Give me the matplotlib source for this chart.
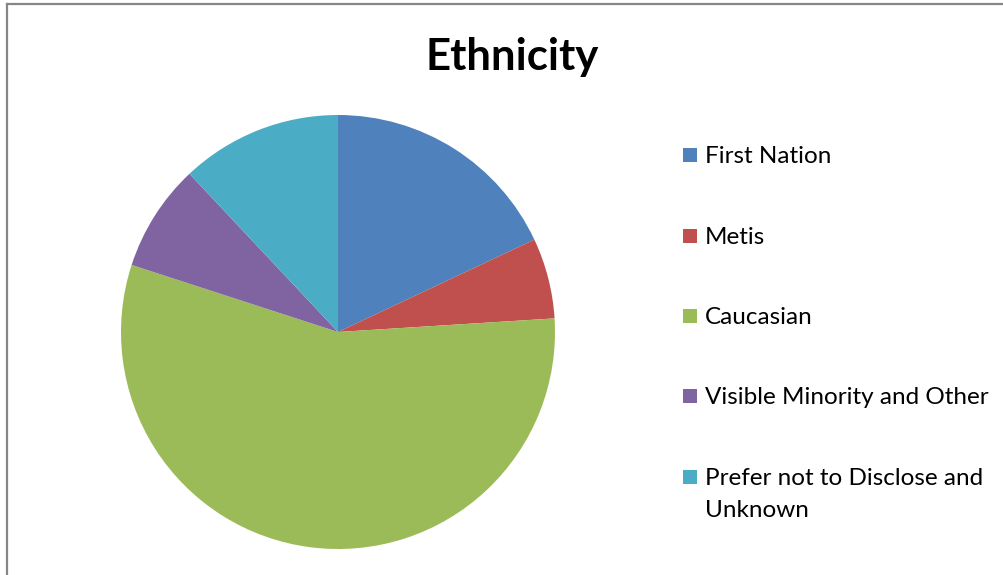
import matplotlib.pyplot as plt
from matplotlib.lines import Line2D
from matplotlib.patches import Rectangle

# Ethnicity breakdown (percent)
labels = ['First Nation', 'Metis', 'Caucasian', 'Visible Minority and Other',
          'Prefer not to Disclose and\nUnknown']
shares = [18, 6, 56, 8, 12]
colors = ['#4F81BD', '#C0504D', '#9BBB59', '#8064A2', '#4BACC6']

W, H = 1004, 575
fig = plt.figure(figsize=(W / 100, H / 100), dpi=100)
fig.patch.set_facecolor('white')

# pie axes: centre (338, 332) px, radius 217 px
cx, cy, r = 338, 332, 217
ax = fig.add_axes([(cx - r) / W, (H - cy - r) / H, 2 * r / W, 2 * r / H])
ax.pie(shares, colors=colors, startangle=90, counterclock=False,
       radius=1.0, wedgeprops=dict(linewidth=0))
ax.set_xlim(-1, 1)
ax.set_ylim(-1, 1)
ax.set_aspect('equal')
ax.axis('off')

fig.text(512 / W, 1 - 57 / H, 'Ethnicity', ha='center', va='center',
         fontsize=31.5, fontweight='bold', family='Lato')

# legend entries
legend_y = [155, 236, 316, 396, 477]
for lab, col, y in zip(labels, colors, legend_y):
    fig.add_artist(Rectangle(((683) / W, 1 - (y + 7) / H), 14 / W, 14 / H,
                             transform=fig.transFigure, color=col, lw=0))
    fig.text(705 / W, 1 - (y - 9) / H, lab, ha='left', va='top',
             fontsize=17.5, family='Lato', linespacing=1.65)

# outer frame (left and top edges)
fig.add_artist(Line2D([6.5 / W, 6.5 / W], [0, 1 - 4 / H], color='#868686',
                      lw=1.6, transform=fig.transFigure))
fig.add_artist(Line2D([6.5 / W, 1], [1 - 4 / H, 1 - 4 / H], color='#868686',
                      lw=1.6, transform=fig.transFigure))

fig.savefig('out.png', dpi=100)
